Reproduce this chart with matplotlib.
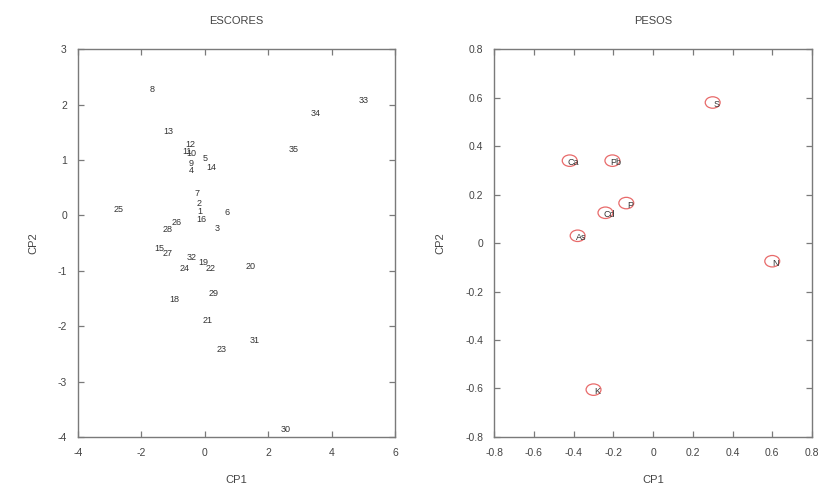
import numpy as np
import matplotlib
matplotlib.use("Agg")
import matplotlib.pyplot as plt
from matplotlib.path import Path

plt.rcParams["font.family"] = ["Liberation Sans", "DejaVu Sans"]
plt.rcParams["axes.unicode_minus"] = False

# scores on the first two principal components, one label per sample
score_lab = ["1", "2", "3", "4", "5", "6", "7", "8", "9", "10", "11", "12",
             "13", "14", "15", "16", "18", "19", "20", "21", "22", "23", "24",
             "25", "26", "27", "28", "29", "30", "31", "32", "33", "34", "35"]
score_cp1 = [-0.16, -0.19, 0.38, -0.41, 0.00, 0.70, -0.25, -1.65, -0.44, -0.41,
             -0.57, -0.44, -1.14, 0.22, -1.43, -0.10, -0.95, -0.06, 1.43, 0.10,
             0.19, 0.54, -0.63, -2.73, -0.89, -1.17, -1.17, 0.29, 2.54, 1.56,
             -0.41, 5.02, 3.49, 2.79]
score_cp2 = [0.07, 0.22, -0.23, 0.81, 1.03, 0.05, 0.40, 2.27, 0.94, 1.12,
             1.16, 1.28, 1.52, 0.87, -0.60, -0.07, -1.52, -0.85, -0.92, -1.90,
             -0.96, -2.42, -0.96, 0.11, -0.13, -0.69, -0.25, -1.41, -3.86, -2.26,
             -0.76, 2.08, 1.84, 1.19]

# loadings of each variable
load_lab = ["Ca", "Pb", "P", "Cd", "As", "S", "N", "K"]
load_cp1 = [-0.42, -0.205, -0.135, -0.24, -0.38, 0.30, 0.60, -0.30]
load_cp2 = [0.34, 0.34, 0.165, 0.125, 0.03, 0.58, -0.075, -0.605]

axis_col = "#7a7a7a"
text_col = "#444444"

fig = plt.figure(figsize=(8.21, 4.92), dpi=100)
ax1 = fig.add_axes([0.095, 0.112, 0.386, 0.788])
ax2 = fig.add_axes([0.602, 0.112, 0.387, 0.788])

for ax in (ax1, ax2):
    for s in ax.spines.values():
        s.set_color(axis_col)
        s.set_linewidth(1.0)
    ax.tick_params(direction="in", length=4, width=0.9, color=axis_col,
                   labelsize=7.5, labelcolor=text_col, top=True, right=True,
                   pad=8)
    ax.set_xlabel("CP1", fontsize=8, color=text_col, labelpad=12)
    ax.set_ylabel("CP2", fontsize=8, color=text_col, labelpad=14)

# scores panel: labels only, no markers
for lab, x, y in zip(score_lab, score_cp1, score_cp2):
    ax1.text(x, y, lab, fontsize=6.5, color="#333333", ha="center", va="center")
ax1.set_xlim(-4, 6)
ax1.set_ylim(-4, 3)
ax1.set_xticks(np.arange(-4, 7, 2))
ax1.set_yticks(np.arange(-4, 4, 1))
ax1.set_title("ESCORES", fontsize=8, color=text_col, pad=18)

# loadings panel: open red ellipses with the variable name
circ = Path.unit_circle()
ell = Path(circ.vertices * np.array([1.3, 1.0]), circ.codes)
ax2.scatter(load_cp1, load_cp2, s=115, marker=ell, facecolors="none",
            edgecolors="#e86a6a", linewidths=0.9)
for lab, x, y in zip(load_lab, load_cp1, load_cp2):
    ax2.annotate(lab, (x, y), xytext=(2.5, -1.5), textcoords="offset points",
                 fontsize=6.5, color="#333333", ha="center", va="center")
ax2.set_xlim(-0.8, 0.8)
ax2.set_ylim(-0.8, 0.8)
ticks = np.round(np.arange(-0.8, 0.81, 0.2), 1)
ax2.set_xticks(ticks)
ax2.set_yticks(ticks)
ax2.set_xticklabels(["0" if t == 0 else f"{t:g}" for t in ticks])
ax2.set_yticklabels(["0" if t == 0 else f"{t:g}" for t in ticks])
ax2.set_title("PESOS", fontsize=8, color=text_col, pad=18)

fig.savefig("out.png", dpi=100)
